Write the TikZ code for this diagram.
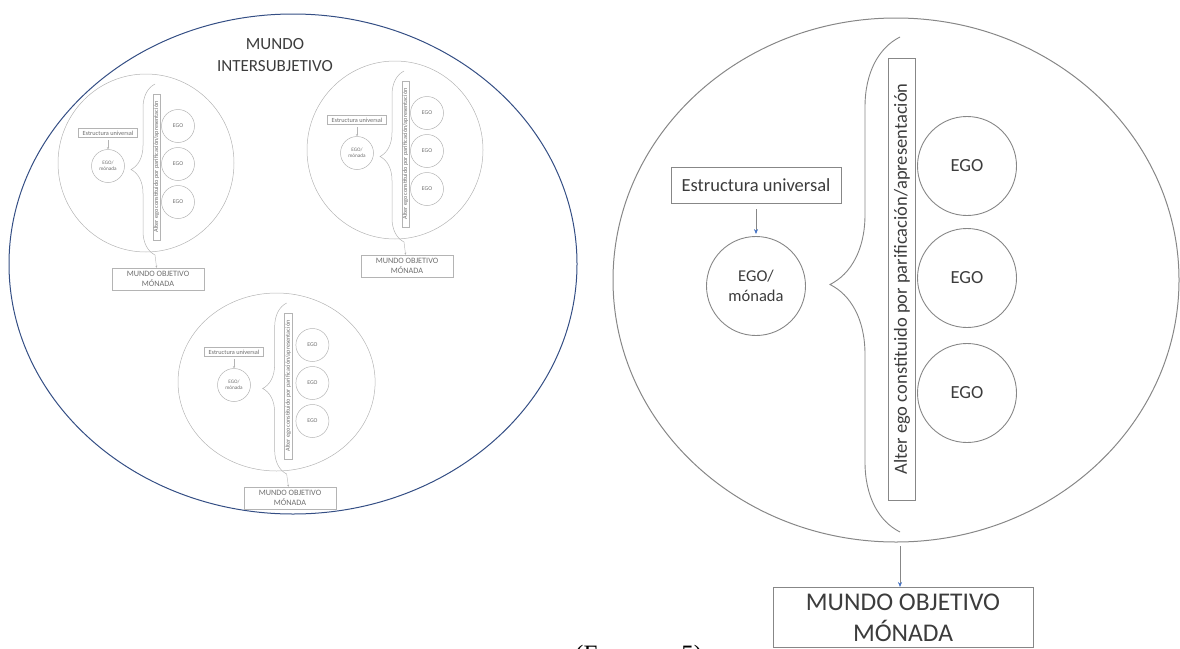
\documentclass[tikz,border=0pt]{standalone}
\usepackage{fontspec}
\setmainfont{Carlito}
\newfontfamily\captionserif{Liberation Serif}
\usepackage{xcolor}
\usepackage{tikz}
\usetikzlibrary{arrows.meta, positioning, decorations.pathreplacing}
\definecolor{worldblue}{RGB}{52,78,132}
\definecolor{monadgray}{RGB}{135,135,135}
\definecolor{minigray}{RGB}{180,180,180}
\definecolor{textgray}{RGB}{60,60,60}
\definecolor{minitext}{RGB}{110,110,110}
\definecolor{tipblue}{RGB}{68,114,196}
\tikzstyle{bigbox} = [rectangle, draw=monadgray, line width=0.9pt,
text=textgray, align=center, inner sep=0pt]
\tikzstyle{bigcirc} = [circle, draw=monadgray, line width=0.9pt,
text=textgray, align=center, inner sep=0pt]
\tikzstyle{minibox} = [rectangle, draw=minigray, line width=0.5pt,
text=minitext, align=center, inner sep=0pt]
\tikzstyle{minicirc} = [circle, draw=minigray, line width=0.5pt,
text=minitext, align=center, inner sep=0pt]
\tikzstyle{bigarrow} = [-{Stealth[length=5pt, width=4pt, color=tipblue]}, draw=monadgray, line width=0.6pt]
\tikzstyle{miniarrow} = [-{Stealth[length=2pt, width=2pt]}, draw=minigray, line width=0.4pt]

\begin{document}
\begin{tikzpicture}[x=1pt, y=-1pt]
    \useasboundingbox (0,0) rectangle (1180,648);

    % intersubjective world
    \draw[worldblue, line width=1pt] (293,264) ellipse [x radius=284, y radius=250];
    \node (inter) [text=textgray, align=center, font=\fontsize{17}{22}\selectfont] at (275,55) {MUNDO\\INTERSUBJETIVO};

    \foreach \d/\mx/\my/\s in {d1/108/166/1, d2/357/153/1, d3/234/385/1.12} {
    \begin{scope}[shift={(\mx,\my)}, xscale=\s]
        \draw[minigray, line width=0.5pt] (38,-3) ellipse [x radius=88, y radius=89];
        \node (\d-estr) [minibox, minimum width=59pt, minimum height=9pt,
            font=\fontsize{6.3}{7}\selectfont] at (0,-33) {Estructura universal};
        \node (\d-mon) [minicirc, minimum size=33pt,
            font=\fontsize{5.2}{6.4}\selectfont] at (0,0) {EGO/\\mónada};
        \coordinate (\d-bb) at (47,89);
        \coordinate (\d-bt) at (47,-82);
        \draw[minigray, line width=0.5pt, decorate, decoration={brace, amplitude=24pt}] (\d-bb) -- (\d-bt);
        \node (\d-alter) [minibox, rotate=90, minimum width=146pt, minimum height=7.5pt,
            font=\fontsize{6.2}{7}\selectfont] at (48.5,1) {Alter ego constituido por parificación/apresentación};
        \node (\d-ego1) [minicirc, minimum size=33pt, font=\fontsize{5.8}{6}\selectfont] at (70,-40) {EGO};
        \node (\d-ego2) [minicirc, minimum size=33pt, font=\fontsize{5.8}{6}\selectfont] at (70,-2) {EGO};
        \node (\d-ego3) [minicirc, minimum size=33pt, font=\fontsize{5.8}{6}\selectfont] at (70,36) {EGO};
        \node (\d-mundo) [minibox, minimum width=92pt, minimum height=22pt,
            font=\fontsize{8.2}{9.5}\selectfont] at (50,113) {MUNDO OBJETIVO\\MÓNADA};
        \draw[miniarrow, shorten <=2pt] (\d-estr) -- (\d-mon);
        \draw[miniarrow] (\d-bb) -- (\d-mundo);
    \end{scope}
    }

    % one monad, enlarged
    \draw[monadgray, line width=1pt] (896,280) ellipse [x radius=283, y radius=262];
    \node (estr) [bigbox, minimum width=170pt, minimum height=36pt,
        font=\fontsize{18.5}{22}\selectfont] at (756,185) {Estructura universal};
    \node (mon) [bigcirc, minimum size=99pt,
        font=\fontsize{16.5}{20}\selectfont] at (756,286) {EGO/\\mónada};
    \coordinate (bbot) at (900,532);
    \coordinate (btop) at (900,37);
    \draw[monadgray, line width=0.9pt, decorate, decoration={brace, amplitude=70pt}] (bbot) -- (btop);
    \node (alter) [bigbox, rotate=90, minimum width=442pt, minimum height=27pt,
        font=\fontsize{18.5}{20}\selectfont] at (902,279) {Alter ego constituido por parificación/apresentación};
    \node (ego1) [bigcirc, minimum size=99pt, font=\fontsize{18.5}{20}\selectfont] at (967,166) {EGO};
    \node (ego2) [bigcirc, minimum size=99pt, font=\fontsize{18.5}{20}\selectfont] at (967,278) {EGO};
    \node (ego3) [bigcirc, minimum size=99pt, font=\fontsize{18.5}{20}\selectfont] at (967,393) {EGO};
    \node (mundo) [bigbox, anchor=north, minimum width=260pt, inner ysep=6pt,
        font=\fontsize{25.5}{31}\selectfont] at (903,587) {MUNDO OBJETIVO\\MÓNADA};

    \draw[bigarrow, shorten <=6pt, shorten >=2pt] (estr) -- (mon);
    \draw[bigarrow, shorten <=14pt] (bbot) -- (bbot |- mundo.north);

    \node (caption) [anchor=north west, inner sep=0pt,
        font=\captionserif\fontsize{25}{25}\selectfont] at (575,645) {(Esquema 5)};
\end{tikzpicture}
\end{document}
